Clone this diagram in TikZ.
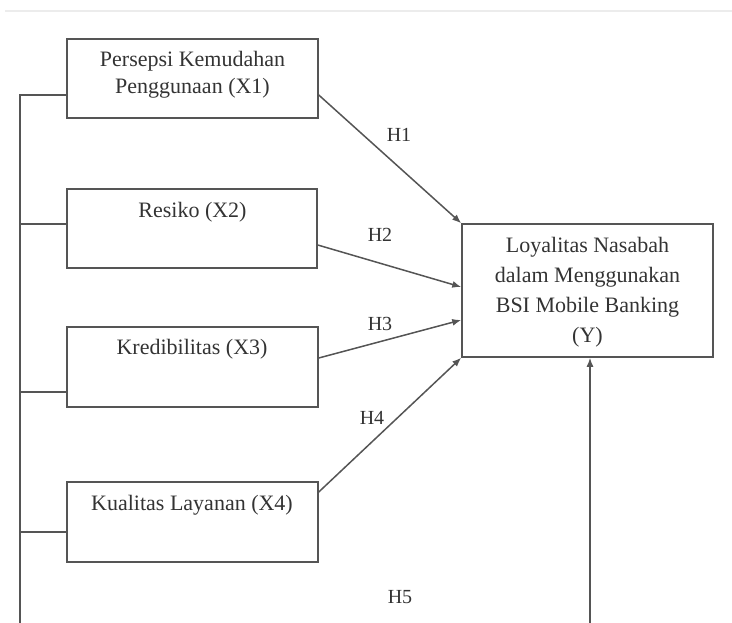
\documentclass[tikz,border=0pt]{standalone}
\usepackage{fontspec}
\setmainfont{Liberation Serif}
\usetikzlibrary{arrows.meta,positioning,calc}
\definecolor{linegray}{HTML}{555555}
\definecolor{textgray}{HTML}{333333}

\begin{document}
\begin{tikzpicture}[
  x=1pt, y=-1pt,
  box/.style={draw=linegray, line width=1.5pt, minimum width=251pt, minimum height=79pt, inner sep=0pt},
  txt/.style={align=center, font=\fontsize{22}{27}\selectfont, text=textgray},
  hlab/.style={font=\fontsize{20}{24}\selectfont, text=textgray},
  wire/.style={draw=linegray, line width=1.5pt},
  arr/.style={wire, -{Latex[length=9pt,width=7pt]}}
]
\useasboundingbox (0,0) rectangle (732,623);
\draw[gray!15, line width=1.5pt] (5,11) -- (732,11);

% variable boxes
\node[box] (x1) at (192.5,78.5) {};
\node[box, minimum width=250pt] (x2) at (192,228.5) {};
\node[box, minimum height=80pt] (x3) at (192.5,367) {};
\node[box, minimum height=80pt] (x4) at (192.5,522) {};
\node[box, minimum height=133pt] (y) at (587.5,290.5) {};

\node[txt] (t1) at (192.5,75) {Persepsi Kemudahan\\Penggunaan (X1)};
\node[txt] (t2) at (192.5,212) {Resiko (X2)};
\node[txt] (t3) at (192,349) {Kredibilitas (X3)};
\node[txt] (t4) at (192,505) {Kualitas Layanan (X4)};
\node[txt, font=\fontsize{22}{30}\selectfont] (ty) at (587.5,292)
  {Loyalitas Nasabah\\dalam Menggunakan\\BSI Mobile Banking\\(Y)};

% left bus line
\coordinate (bustop) at (20,95);
\coordinate (busend) at (20,623);
\draw[wire] (busend) -- (bustop) -- (bustop -| x1.west);
\draw[wire] (bustop |- 0,224) -- (x2.west |- 0,224);
\draw[wire] (bustop |- 0,392) -- (x3.west |- 0,392);
\draw[wire] (bustop |- 0,532) -- (x4.west |- 0,532);

% hypothesis arrows
\draw[arr] (x1.east |- 0,95) -- (y.north west);
\draw[arr] (x2.east |- 0,245) -- (y.west |- 0,287);
\draw[arr] (x3.east |- 0,358) -- (y.west |- 0,320);
\draw[arr] (x4.east |- 0,492) -- (y.south west);
\coordinate (yend) at (590,623);
\draw[arr] (yend) -- (yend |- y.south);

\node[hlab] (h1) at (399,135) {H1};
\node[hlab] (h2) at (380,235) {H2};
\node[hlab] (h3) at (380,324) {H3};
\node[hlab] (h4) at (372,418) {H4};
\node[hlab] (h5) at (400,597) {H5};

\end{tikzpicture}
\end{document}
